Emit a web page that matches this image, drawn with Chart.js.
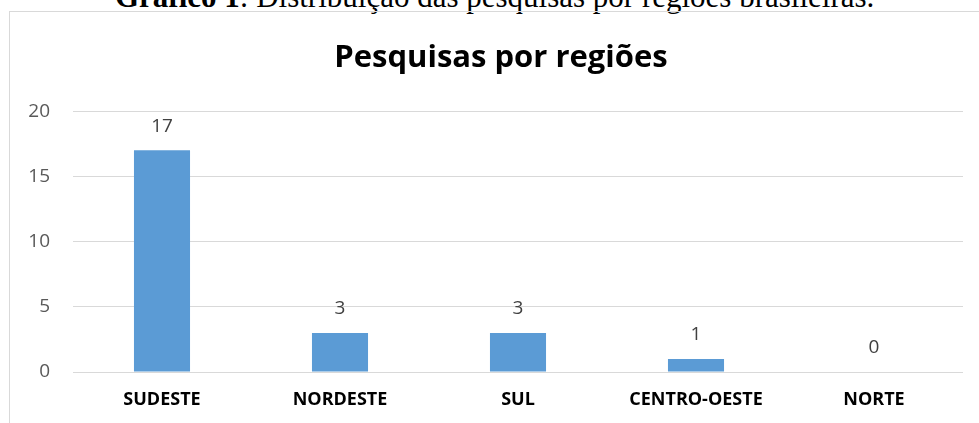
<!DOCTYPE html>
<html lang="pt-BR">
<head>
<meta charset="utf-8">
<title>Pesquisas por regiões</title>
<script src="https://cdn.jsdelivr.net/npm/chart.js@4.4.1/dist/chart.umd.min.js"></script>
<style>
  html, body { margin: 0; padding: 0; background: #fff; overflow: hidden; }
  body { width: 979px; height: 423px; position: relative; }
  #legenda {
    position: absolute; left: 115px; top: -21px; white-space: nowrap;
    font-family: "Liberation Serif", "Times New Roman", serif; font-size: 31px; color: #000;
  }
  #moldura {
    position: absolute; left: 9px; top: 11px; width: 1000px; height: 500px;
    border-left: 1px solid #d9d9d9; border-top: 1px solid #d9d9d9;
  }
  #grafico { position: absolute; left: 0; top: 0; }
</style>
</head>
<body>
<div id="legenda"><b>Gráfico 1</b>: Distribuição das pesquisas por regiões brasileiras.</div>
<div id="moldura"></div>
<canvas id="grafico" width="979" height="423"></canvas>
<script>
// ==========================================================
// dados
// ==========================================================
const regioes = ['SUDESTE', 'NORDESTE', 'SUL', 'CENTRO-OESTE', 'NORTE'];
const pesquisas = [17, 3, 3, 1, 0];
const ticksY = [0, 5, 10, 15, 20];

const FONTE = '"Open Sans", "DejaVu Sans", sans-serif';

// rótulos de valor acima das barras
const rotulosValor = {
  id: 'rotulosValor',
  afterDatasetsDraw(chart) {
    const ctx = chart.ctx;
    const meta = chart.getDatasetMeta(0);
    ctx.save();
    ctx.font = '19px ' + FONTE;
    ctx.fillStyle = '#404040';
    ctx.textAlign = 'center';
    ctx.textBaseline = 'middle';
    meta.data.forEach(function(bar, i) {
      ctx.fillText(String(pesquisas[i]), bar.x, bar.y - 24);
    });
    ctx.restore();
  }
};

// o eixo y é estreito (por causa do padding), então alarga a área de recorte dos rótulos
const eixoLargo = {
  id: 'eixoLargo',
  afterLayout(chart) {
    chart.scales.y.left = 0;
  }
};

new Chart(document.getElementById('grafico'), {
  type: 'bar',
  data: {
    labels: regioes,
    datasets: [{
      label: 'Pesquisas',
      data: pesquisas,
      backgroundColor: '#5B9BD5',
      borderWidth: 0,
      categoryPercentage: 1,
      barPercentage: 0.315
    }]
  },
  options: {
    responsive: false,
    animation: false,
    // padding esquerdo para centrar o título como no original
    layout: { padding: { left: 39, right: 16, top: 0, bottom: 0 } },
    plugins: {
      legend: { display: false },
      tooltip: { enabled: false },
      title: {
        display: true,
        text: 'Pesquisas por regiões',
        color: '#000',
        font: { family: FONTE, size: 31, weight: 'bold', lineHeight: 1.2 },
        padding: { top: 40, bottom: 34 }
      }
    },
    scales: {
      x: {
        grid: { display: false, drawTicks: false },
        border: { display: false },
        ticks: { color: '#000', padding: 17, font: { family: FONTE, size: 18, weight: 'bold' } },
        afterFit: function(scale) { scale.height = 51; }
      },
      y: {
        min: 0,
        max: 20,
        afterBuildTicks: function(scale) { scale.ticks = ticksY.map(function(v) { return { value: v }; }); },
        grid: { color: '#d9d9d9', lineWidth: 1, drawTicks: false },
        border: { display: false },
        ticks: { color: '#595959', padding: 23, font: { family: FONTE, size: 19 } },
        afterFit: function(scale) { scale.width = 34; }
      }
    }
  },
  plugins: [rotulosValor, eixoLargo]
});
</script>
</body>
</html>
